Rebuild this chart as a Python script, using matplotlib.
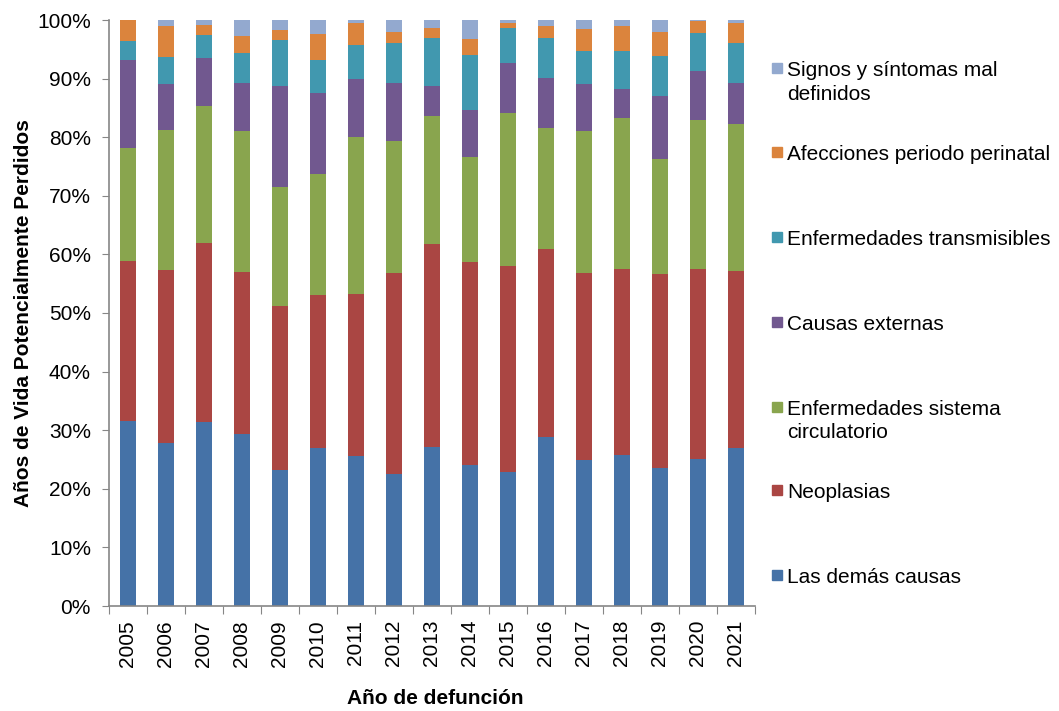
import numpy as np
import matplotlib.pyplot as plt
from matplotlib.patches import Rectangle

plt.rcParams['font.family'] = ['Liberation Sans', 'DejaVu Sans']

years = [str(y) for y in range(2005, 2022)]

# cumulative tops (percent), bottom series first
cum_demas = [31.6, 27.9, 31.4, 29.3, 23.2, 27.0, 25.6, 22.6, 27.1, 24.0, 22.9, 28.9, 25.0, 25.8, 23.6, 25.1, 27.0]
cum_neo = [58.9, 57.3, 61.9, 57.0, 51.2, 53.0, 53.2, 56.9, 61.8, 58.7, 58.0, 61.0, 56.9, 57.5, 56.7, 57.5, 57.1]
cum_circ = [78.1, 81.2, 85.3, 81.0, 71.5, 73.8, 80.0, 79.3, 83.6, 76.6, 84.1, 81.6, 81.0, 83.2, 76.2, 82.9, 82.2]
cum_ext = [93.1, 89.0, 93.5, 89.2, 88.8, 87.5, 89.9, 89.2, 88.7, 84.7, 92.7, 90.1, 89.0, 88.2, 87.0, 91.3, 89.2]
cum_trans = [96.4, 93.7, 97.4, 94.4, 96.6, 93.1, 95.8, 96.0, 97.0, 94.0, 98.7, 96.9, 94.7, 94.7, 93.9, 97.8, 96.0]
cum_peri = [100.0, 99.0, 99.1, 97.2, 98.3, 97.6, 99.5, 98.0, 98.7, 96.8, 99.5, 99.0, 98.5, 99.0, 98.0, 99.9, 99.5]
cum_signos = [100.0] * 17

labels = ['Las demás causas', 'Neoplasias', 'Enfermedades sistema\ncirculatorio',
          'Causas externas', 'Enfermedades transmisibles', 'Afecciones periodo perinatal',
          'Signos y síntomas mal\ndefinidos']
colors = ['#4572A7', '#AA4643', '#89A54E', '#71588F', '#4198AF', '#DB843D', '#93A9CF']

cums = np.array([cum_demas, cum_neo, cum_circ, cum_ext, cum_trans, cum_peri, cum_signos]) / 100
bottoms = np.vstack([np.zeros(len(years)), cums[:-1]])
heights = cums - bottoms

fs = 15
fig = plt.figure(figsize=(10.59, 7.11), dpi=100)
ax = fig.add_axes([109 / 1059, 105 / 711, 646 / 1059, 586 / 711])

x = np.arange(len(years))
for i in range(len(labels)):
    ax.bar(x, heights[i], bottom=bottoms[i], width=0.42, color=colors[i], linewidth=0)

ax.set_xlim(-0.5, len(years) - 0.5)
ax.set_ylim(0, 1)
ax.set_yticks(np.arange(0, 1.01, 0.1))
ax.set_yticklabels([f'{int(round(v * 100))}%' for v in np.arange(0, 1.01, 0.1)], fontsize=fs)

# category boundaries get tick marks, labels sit at centers
ax.set_xticks(np.arange(-0.5, len(years), 1))
ax.set_xticklabels([])
ax.set_xticks(x, minor=True)
ax.set_xticklabels(years, minor=True, rotation=90, fontsize=fs)
ax.tick_params(axis='x', which='major', length=6, color='#868686', direction='out')
ax.tick_params(axis='x', which='minor', length=0, pad=10)
ax.tick_params(axis='y', length=5, color='#868686', pad=8)

for s in ['top', 'right']:
    ax.spines[s].set_visible(False)
for s in ['left', 'bottom']:
    ax.spines[s].set_color('#868686')
    ax.spines[s].set_linewidth(1.2)

ax.set_ylabel('Años de Vida Potencialmente Perdidos', fontsize=fs, fontweight='bold')
ax.yaxis.set_label_coords((33 - 109) / 646, 0.5)
fig.text(435 / 1059, 1 - 698 / 711, 'Año de defunción', fontsize=fs, fontweight='bold',
         ha='center', va='center')

# legend drawn by hand, top entry first
leg_y = [575, 490, 407, 322, 237, 152, 68]
W, H = 1059, 711
for i in range(len(labels)):
    yc = leg_y[i]
    fig.patches.append(Rectangle((772 / W, 1 - (yc + 5) / H), 10 / W, 10 / H,
                                 color=colors[i], transform=fig.transFigure, figure=fig))
    fig.text(787 / W, 1 - (yc - 7) / H, labels[i], fontsize=fs, va='top', ha='left',
             linespacing=1.3)

fig.savefig('out.png', dpi=100)
